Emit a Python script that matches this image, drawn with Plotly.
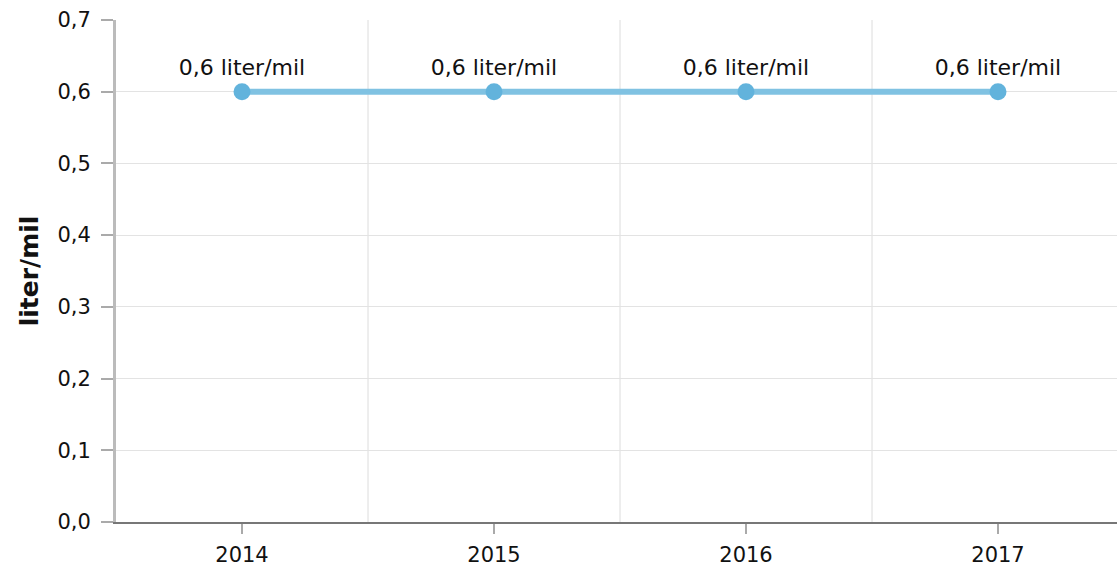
import plotly.graph_objects as go

years = ["2014", "2015", "2016", "2017"]
values = [0.6, 0.6, 0.6, 0.6]
labels = ["0,6 liter/mil", "0,6 liter/mil", "0,6 liter/mil", "0,6 liter/mil"]
y_ticks = [0, 0.1, 0.2, 0.3, 0.4, 0.5, 0.6, 0.7]
y_tick_text = ["0,0", "0,1", "0,2", "0,3", "0,4", "0,5", "0,6", "0,7"]
y_title = "liter/mil"

FONT = "Verdana, DejaVu Sans, sans-serif"

fig = go.Figure()
fig.add_trace(go.Scatter(
    x=years, y=values, mode="lines+markers+text",
    text=labels, textposition="top center",
    textfont=dict(family=FONT, size=22, color="#111111"),
    line=dict(color="#80c2e2", width=6),
    marker=dict(color="#62b3dc", size=17),
    showlegend=False, hoverinfo="skip", cliponaxis=False,
))

# vertical gridlines at category boundaries
for i in range(len(years) - 1):
    fig.add_shape(type="line", xref="x", yref="paper", x0=i + 0.5, x1=i + 0.5,
                  y0=0, y1=1, line=dict(color="#dcdcdc", width=1), layer="below")

fig.update_layout(
    width=1124, height=575,
    margin=dict(l=116, r=0, t=20, b=53),
    paper_bgcolor="white", plot_bgcolor="white",
    font=dict(family=FONT, size=20, color="#111111"),
    xaxis=dict(
        type="category", range=[-0.5, len(years) - 0.5],
        showgrid=False, showline=True, linecolor="#777777", linewidth=2,
        ticks="outside", ticklen=10, tickcolor="#aaaaaa", tickwidth=2,
        tickfont=dict(family=FONT, size=21, color="#111111"),
        ticklabelstandoff=3,
        zeroline=False,
    ),
    yaxis=dict(
        range=[0, 0.7], tickvals=y_ticks, ticktext=y_tick_text,
        showgrid=True, gridcolor="#e3e3e3", gridwidth=1,
        showline=True, linecolor="#bbbbbb", linewidth=3,
        ticks="outside", ticklen=12, tickcolor="#aaaaaa", tickwidth=2,
        tickfont=dict(family=FONT, size=21, color="#111111"),
        ticklabelstandoff=6,
        zeroline=False,
        title=dict(text="<b>" + y_title + "</b>", font=dict(family=FONT, size=25, color="#111111"),
                   standoff=12),
    ),
)

fig.write_html(
    "out.html",
    config={"displayModeBar": False},
    post_script="document.body.style.margin='0';document.body.style.overflow='hidden';",
)
